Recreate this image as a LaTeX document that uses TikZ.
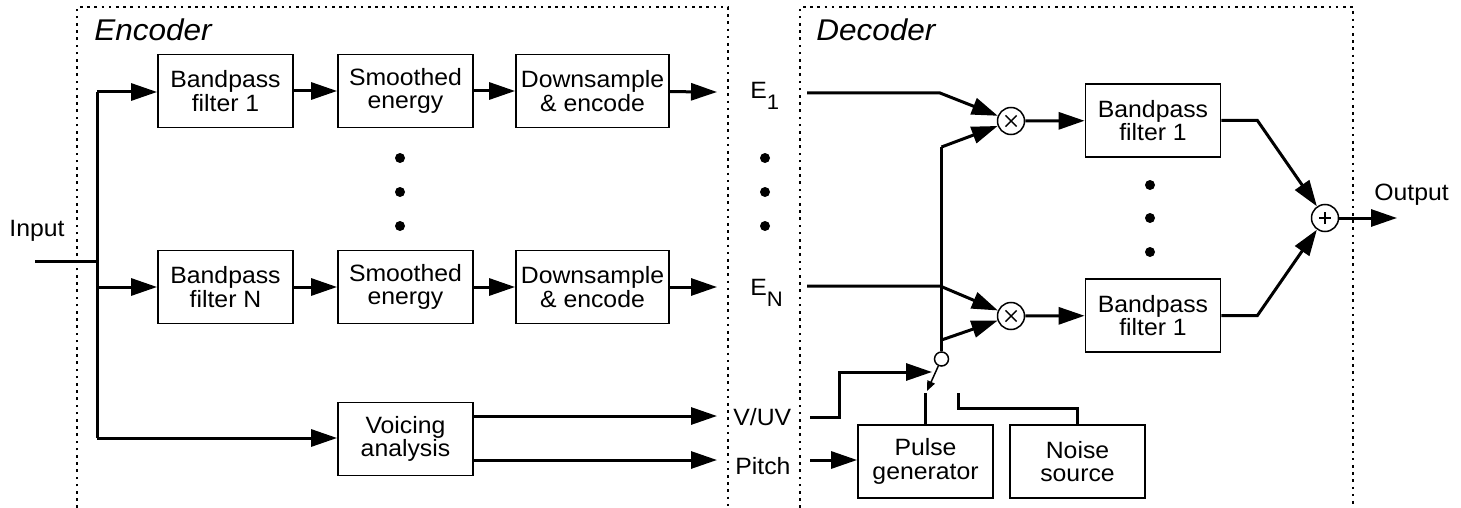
\documentclass[tikz,border=0pt]{standalone}
\usepackage{fontspec}
\setmainfont{Liberation Sans}[FakeStretch=1.05]
\usetikzlibrary{arrows.meta}
\begin{document}
\begin{tikzpicture}[x=0.5pt,y=-0.5pt,
  txt/.style={font=\fontsize{11.8}{11.8}\selectfont},
  blk/.style={txt,draw,line width=0.9pt,minimum width=67.5pt,minimum height=36.5pt,align=center,inner sep=0pt},
  lbl/.style={txt,inner sep=0pt},
  ttl/.style={font=\fontsize{15}{15}\selectfont\itshape,inner sep=0pt,anchor=base west},
  sig/.style={line width=1.5pt},
  arr/.style={sig,-{Triangle[length=13pt,width=8.5pt]}},
  frm/.style={line width=0.75pt,dash pattern=on 1.3pt off 2.3pt},
  bigdot/.style={circle,fill,inner sep=0pt,minimum size=5pt},
  op/.style={circle,draw,line width=0.75pt,minimum size=13.5pt,inner sep=0pt},
  mul/.style={op,path picture={
     \draw[line width=0.7pt] ([shift={(-2.8pt,-2.8pt)}]path picture bounding box.center) -- ([shift={(2.8pt,2.8pt)}]path picture bounding box.center);
     \draw[line width=0.7pt] ([shift={(-2.8pt,2.8pt)}]path picture bounding box.center) -- ([shift={(2.8pt,-2.8pt)}]path picture bounding box.center);}},
  add/.style={op,path picture={
     \draw[line width=0.7pt] ([shift={(-3pt,0pt)}]path picture bounding box.center) -- ([shift={(3pt,0pt)}]path picture bounding box.center);
     \draw[line width=0.7pt] ([shift={(0pt,-3pt)}]path picture bounding box.center) -- ([shift={(0pt,3pt)}]path picture bounding box.center);}},
]
\useasboundingbox (0,0) rectangle (1461,508);

% frames
\draw[frm] (77,508) -- (77,7) -- (728,7) -- (728,508);
\draw[frm] (800,508) -- (800,7) -- (1353,7) -- (1353,508);
\node[ttl] (enc) at (94,40.5) {Encoder};
\node[ttl] (dec) at (816,40.5) {Decoder};

% encoder blocks
\node[blk] (bpf1) at (225.5,91) {Bandpass\\filter 1};
\node[blk] (se1)  at (405.5,91) {Smoothed\\energy};
\node[blk,minimum width=76.5pt] (ds1) at (592.5,91) {Downsample\\\& encode};
\node[blk] (bpfN) at (225.5,287) {Bandpass\\filter N};
\node[blk] (seN)  at (405.5,287) {Smoothed\\energy};
\node[blk,minimum width=76.5pt] (dsN) at (592.5,287) {Downsample\\\& encode};
\node[blk] (va) at (405.5,439) {Voicing\\analysis};

\node[bigdot] (ed1) at (400,158) {};
\node[bigdot] (ed2) at (400,192) {};
\node[bigdot] (ed3) at (400,226) {};

% input
\node[lbl,anchor=base] (inp) at (37,236) {Input};
\coordinate (inL) at (35,261);
\coordinate (trunkTop) at (97,92);
\coordinate (trunkMid) at (97,287);
\coordinate (trunkBot) at (97,438);
\draw[sig] (inL) -- (97,261);
\draw[sig] (trunkTop) -- (trunkBot);
\draw[arr] (trunkTop) -- (bpf1.west |- trunkTop);
\draw[arr] (trunkMid) -- (bpfN.west);
\draw[arr] (trunkBot) -- (va.west |- trunkBot);
\draw[arr] (bpf1) -- (se1);
\draw[arr] (se1) -- (ds1);
\draw[arr] (bpfN) -- (seN);
\draw[arr] (seN) -- (dsN);

% channel labels
\coordinate (e1in) at (717,92);
\coordinate (eNin) at (717,287);
\coordinate (vin) at (717,416);
\coordinate (pin) at (717,460);
\draw[arr] (ds1) -- (e1in);
\draw[arr] (dsN) -- (eNin);
\draw[arr] (va.east |- vin) -- (vin);
\draw[arr] (va.east |- pin) -- (pin);

\node[lbl,anchor=base west] (e1) at (750,99) {E\raisebox{-5.5pt}{\fontsize{10.5}{10.5}\selectfont 1}};
\node[lbl,anchor=base west] (eN) at (750,295) {E\raisebox{-5.5pt}{\fontsize{10.5}{10.5}\selectfont N}};
\node[lbl,anchor=base west] (vuv) at (733,425) {V/UV};
\node[lbl,anchor=base west] (pitch) at (735,474) {Pitch};
\node[bigdot] (md1) at (765,158) {};
\node[bigdot] (md2) at (765,192) {};
\node[bigdot] (md3) at (765,226) {};

% decoder
\node[mul] (m1) at (1011,121) {};
\node[mul] (m2) at (1011,316) {};
\node[blk] (dbpf1) at (1153,120.5) {Bandpass\\filter 1};
\node[blk] (dbpfN) at (1153,315.5) {Bandpass\\filter 1};
\node[bigdot] (dd1) at (1150,185) {};
\node[bigdot] (dd2) at (1150,218) {};
\node[bigdot] (dd3) at (1150,252) {};
\node[add] (sum) at (1325,218) {};
\node[lbl,anchor=base west] (out) at (1374,200) {Output};
\coordinate (outR) at (1397,218);

\node[blk] (pg) at (925.5,461.5) {Pulse\\generator};
\node[blk] (ns) at (1077.5,461.5) {Noise\\source};
\node[circle,draw,line width=0.75pt,minimum size=7pt,inner sep=0pt] (sw) at (941.5,359) {};

\coordinate (e1out) at (807,93);
\coordinate (eNout) at (807,286);
\coordinate (vout) at (810,417);
\coordinate (pout) at (810,460);
\coordinate (j1) at (941.5,147);
\coordinate (j2) at (941.5,340);
\coordinate (vtip) at (932,372);
\coordinate (blade) at (927,391);
\coordinate (pc) at (925.5,393);
\coordinate (nc) at (958,393);

\draw[arr] (e1out) -- (940,93) -- (m1);
\draw[arr] (eNout) -- (940,286) -- (m2);
\draw[sig] (sw.north) -- (j1);
\draw[arr] (j1) -- (m1);
\draw[arr] (j2) -- (m2);
\draw[arr] (m1) -- (dbpf1);
\draw[arr] (m2) -- (dbpfN);
\draw[arr] (dbpf1.east) -- ++(36,0) -- (sum);
\draw[arr] (dbpfN.east) -- ++(36,0) -- (sum);
\draw[arr] (sum) -- (outR);

\draw[arr] (vout) -- (839,417) -- (839,372) -- (vtip);
\draw[line width=0.75pt,-{Triangle[length=5pt,width=4pt]}] (sw) -- (blade);
\draw[sig] (pc) -- (pg.north);
\draw[sig] (nc) -- (958,408) -| (ns.north);
\draw[arr] (pout) -- (pg.west |- pout);
\end{tikzpicture}
\end{document}
